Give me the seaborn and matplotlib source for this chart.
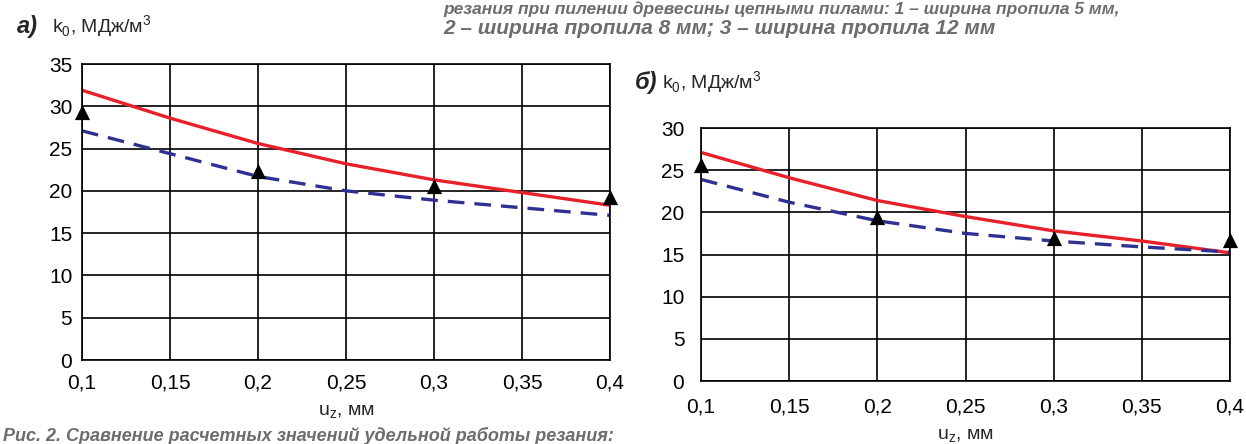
import matplotlib
matplotlib.use("Agg")
import matplotlib.pyplot as plt
import seaborn as sns
import pandas as pd

# ---- data ----
x_curve = [0.10, 0.15, 0.20, 0.25, 0.30, 0.35, 0.40]
x_pts = [0.10, 0.20, 0.30, 0.40]

a_red = [31.9, 28.6, 25.6, 23.2, 21.3, 19.8, 18.3]
a_blue = [27.1, 24.4, 21.7, 20.0, 18.9, 18.0, 17.1]
a_pts = [29.3, 22.4, 20.6, 19.3]

b_red = [27.1, 24.1, 21.4, 19.5, 17.8, 16.6, 15.2]
b_blue = [23.9, 21.2, 19.0, 17.5, 16.6, 15.9, 15.3]
b_pts = [25.6, 19.4, 17.0, 16.7]

x_ticks = [0.1, 0.15, 0.2, 0.25, 0.3, 0.35, 0.4]
x_ticklabels = ["0,1", "0,15", "0,2", "0,25", "0,3", "0,35", "0,4"]
a_yticks = [0, 5, 10, 15, 20, 25, 30, 35]
b_yticks = [0, 5, 10, 15, 20, 25, 30]

sns.set_theme(style="white")
plt.rcParams["font.family"] = ["Liberation Sans", "DejaVu Sans"]
plt.rcParams["mathtext.fontset"] = "custom"
plt.rcParams["mathtext.rm"] = "Liberation Sans"

RED = "#e8202a"
BLUE = "#2e3192"
W, H = 1246, 444

fig = plt.figure(figsize=(W / 100, H / 100), dpi=100)


def px_axes(l, t, r, b):
    return fig.add_axes([l / W, 1 - b / H, (r - l) / W, (b - t) / H])


axA = px_axes(82, 64, 610, 360)
axB = px_axes(701, 128, 1230, 381)


def draw(ax, red, blue, pts, yticks, ymax, ypad, xpad):
    dfc = pd.DataFrame({"x": x_curve, "red": red, "blue": blue})
    dfp = pd.DataFrame({"x": x_pts, "y": pts})
    sns.lineplot(data=dfc, x="x", y="red", ax=ax, color=RED, lw=2.4)
    sns.lineplot(data=dfc, x="x", y="blue", ax=ax, color=BLUE, lw=2.4,
                 dashes=False, linestyle=(0, (5, 3)))
    sns.scatterplot(data=dfp, x="x", y="y", ax=ax, marker="^", color="black",
                    s=120, edgecolor="black", linewidth=0, zorder=5, clip_on=False)
    ax.set_xlim(0.1, 0.4)
    ax.set_ylim(0, ymax)
    ax.set_xticks(x_ticks)
    ax.set_xticklabels(x_ticklabels)
    ax.set_yticks(yticks)
    ax.grid(True, color="black", lw=1.2)
    ax.set_axisbelow(True)
    for s in ax.spines.values():
        s.set_color("black")
        s.set_linewidth(1.2)
    ax.tick_params(axis="both", labelsize=15, length=0, colors="black")
    ax.tick_params(axis="y", pad=ypad)
    ax.tick_params(axis="x", pad=xpad)
    ax.set_ylabel("")
    ax.set_xlabel(r"u$_\mathregular{z}$, мм", fontsize=14, labelpad=8)


draw(axA, a_red, a_blue, a_pts, a_yticks, 35, 7, 10)
draw(axB, b_red, b_blue, b_pts, b_yticks, 30, 12, 12)

# panel labels
fig.text(17 / W, 1 - 27 / H, "а)", fontsize=17, fontweight="bold",
         fontstyle="italic", va="center", ha="left")
fig.text(52 / W, 1 - 27 / H, r"k$_\mathregular{0}$, МДж/м$^\mathregular{3}$",
         fontsize=14, va="center", ha="left")
fig.text(635 / W, 1 - 83 / H, "б)", fontsize=17, fontweight="bold",
         fontstyle="italic", va="center", ha="left")
fig.text(662 / W, 1 - 83 / H, r"k$_\mathregular{0}$, МДж/м$^\mathregular{3}$",
         fontsize=14, va="center", ha="left")

# caption fragments
GRAY = "#6d6d6d"
cap = dict(fontweight="bold", fontstyle="italic", color=GRAY,
           va="center", ha="left", family=["Liberation Sans", "DejaVu Sans"])
fig.text(443 / W, 1 - 9 / H,
         "резания при пилении древесины цепными пилами: 1 – ширина пропила 5 мм,",
         fontsize=12.5, **cap)
fig.text(443 / W, 1 - 29 / H,
         "2 – ширина пропила 8 мм; 3 – ширина пропила 12 мм",
         fontsize=15, **cap)
fig.text(3 / W, 1 - 436 / H,
         "Рис. 2. Сравнение расчетных значений удельной работы резания:",
         fontsize=13, **cap)

fig.savefig("out.png", dpi=100)
